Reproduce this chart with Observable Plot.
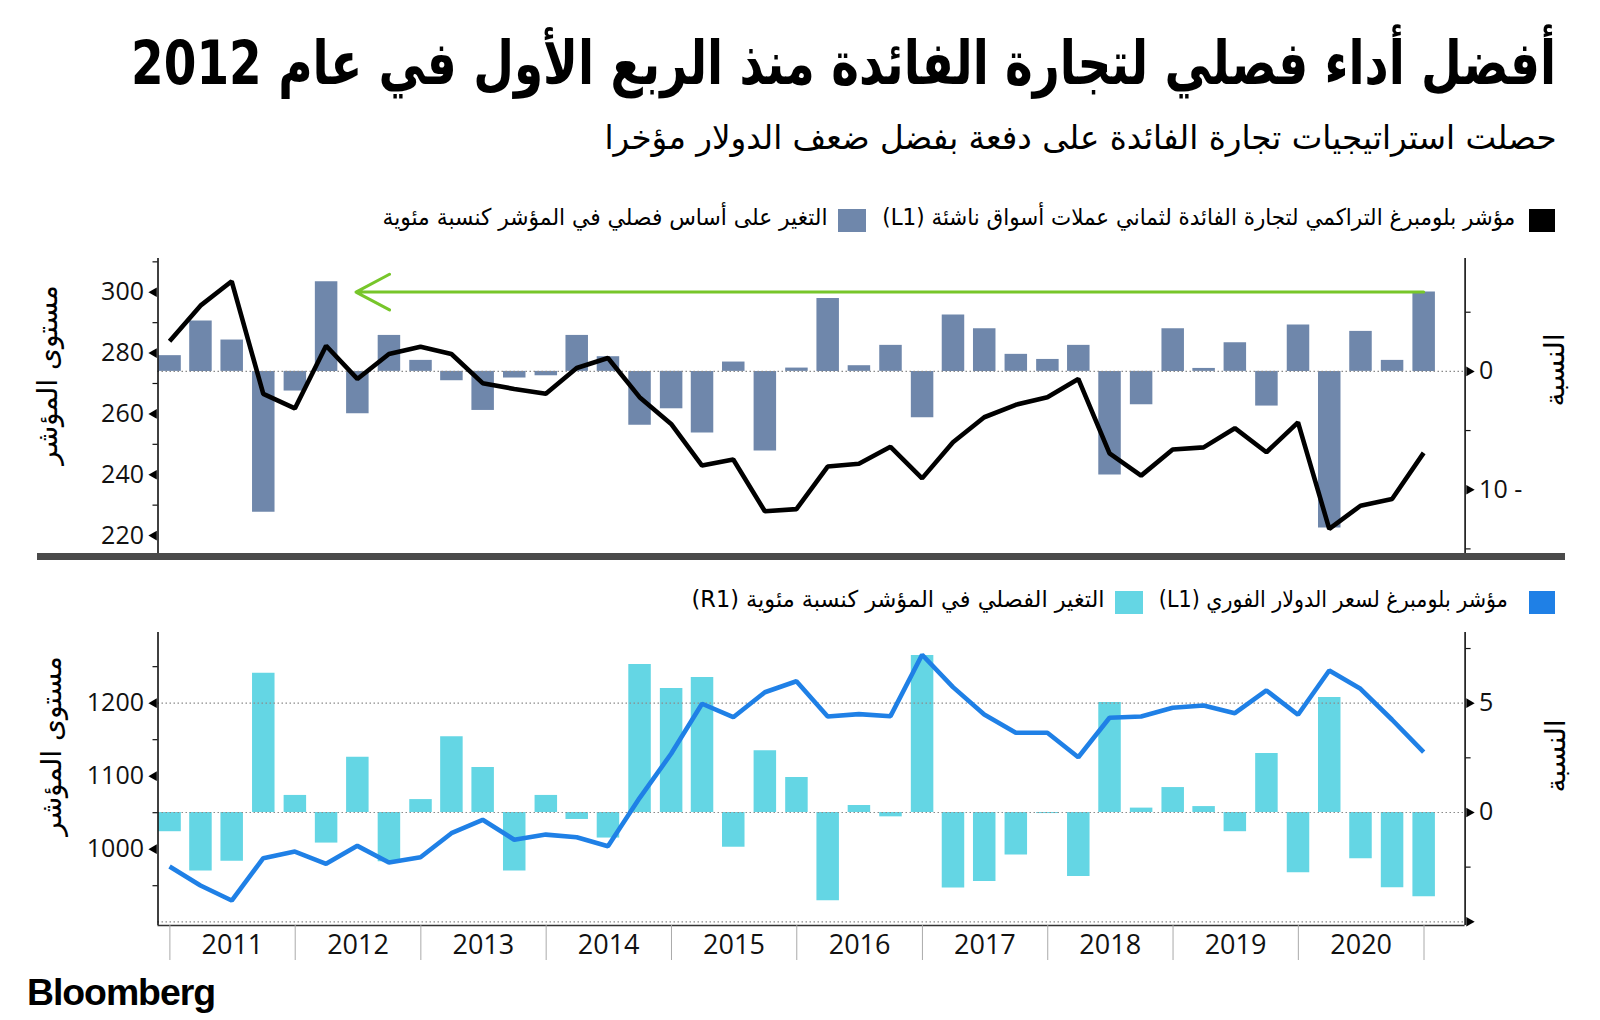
<!DOCTYPE html>
<html lang="ar">
<head>
<meta charset="utf-8">
<script src="https://cdn.jsdelivr.net/npm/d3@7"></script>
<script src="https://cdn.jsdelivr.net/npm/@observablehq/plot@0.6"></script>
<style>
  html, body { margin: 0; padding: 0; background: #fff; }
  body { width: 1600px; height: 1020px; position: relative; overflow: hidden; font-family: "DejaVu Sans", sans-serif; color: #000; }
  .abs { position: absolute; white-space: nowrap; line-height: 1; }
  .ar { direction: rtl; font-family: "DejaVu Sans", sans-serif; }
  .sq { position: absolute; }
  .vlab { position: absolute; white-space: nowrap; direction: rtl; font-family: "DejaVu Sans", sans-serif; font-size: 28px; line-height: 1; transform: translate(-50%, -50%) rotate(-90deg); }
</style>
</head>
<body>
<div id="title" class="abs ar" style="font-weight:bold;font-size:60px;">أفضل أداء فصلي لتجارة الفائدة منذ الربع الأول في عام 2012</div>
<div id="subtitle" class="abs ar" style="font-size:33px;">حصلت استراتيجيات تجارة الفائدة على دفعة بفضل ضعف الدولار مؤخرا</div>

<div class="sq" id="sqBlack"></div>
<div id="legT1" class="abs ar" style="font-size:23px;"></div>
<div class="sq" id="sqSlate"></div>
<div id="legT2" class="abs ar" style="font-size:23px;"></div>

<div id="topChart" style="position:absolute;left:0;top:235px;"></div>
<div id="sepBar" style="position:absolute;left:37px;top:553px;width:1528px;height:7px;background:#4a4a4a;"></div>

<div class="sq" id="sqBlue"></div>
<div id="legB1" class="abs ar" style="font-size:23px;"></div>
<div class="sq" id="sqCyan"></div>
<div id="legB2" class="abs ar" style="font-size:23px;"></div>

<div id="botChart" style="position:absolute;left:0;top:625px;"></div>

<div class="vlab" id="ylabTL" style="left:48px;top:375px;"></div>
<div class="vlab" id="ylabTR" style="left:1555px;top:370px;"></div>
<div class="vlab" id="ylabBL" style="left:52px;top:746px;"></div>
<div class="vlab" id="ylabBR" style="left:1556px;top:756px;"></div>

<div id="logo" class="abs" style="font-family:'Liberation Sans',Arial,sans-serif;font-weight:bold;font-size:36px;letter-spacing:-1px;">Bloomberg</div>

<script>
// ---------------- DATA ----------------
const quarters = [
  "2010-12-31",
  "2011-03-31","2011-06-30","2011-09-30","2011-12-31",
  "2012-03-31","2012-06-30","2012-09-30","2012-12-31",
  "2013-03-31","2013-06-30","2013-09-30","2013-12-31",
  "2014-03-31","2014-06-30","2014-09-30","2014-12-31",
  "2015-03-31","2015-06-30","2015-09-30","2015-12-31",
  "2016-03-31","2016-06-30","2016-09-30","2016-12-31",
  "2017-03-31","2017-06-30","2017-09-30","2017-12-31",
  "2018-03-31","2018-06-30","2018-09-30","2018-12-31",
  "2019-03-31","2019-06-30","2019-09-30","2019-12-31",
  "2020-03-31","2020-06-30","2020-09-30","2020-12-31"
];
// Bloomberg cumulative carry index, 8 EM currencies (L1)
const carryIndex = [
  283.9,
  295.6, 303.6, 266.6, 261.8,
  282.4, 271.5, 279.7, 282.1,
  279.7, 270.1, 268.2, 266.6,
  275.1, 278.4, 265.5, 256.7,
  243.0, 245.0, 228.0, 228.7,
  242.7, 243.6, 249.2, 238.8,
  250.7, 258.9, 263.0, 265.5,
  271.5, 247.0, 239.7, 248.3,
  249.0, 255.3, 247.4, 257.2,
  222.2, 229.8, 232.0, 247.2
];
// quarterly % change of the carry index (right axis)
const carryChange = [
  1.33,
  4.25, 2.65, -11.9, -1.66,
  7.58, -3.58, 3.04, 0.93,
  -0.79, -3.3, -0.56, -0.37,
  3.04, 1.24, -4.56, -3.16,
  -5.2, 0.79, -6.73, 0.28,
  6.17, 0.48, 2.2, -3.92,
  4.76, 3.6, 1.44, 1.01,
  2.2, -8.76, -2.82, 3.6,
  0.25, 2.42, -2.93, 3.92,
  -13.24, 3.38, 0.93, 6.7
];
// Bloomberg dollar spot index (L1)
const dollarIndex = [
  976.3,
  950.3, 929.7, 987.7, 996.8,
  980.0, 1004.6, 981.8, 989.0,
  1021.9, 1040.3, 1013.0, 1020.0,
  1016.4, 1004.0, 1070.0, 1130.7,
  1199.2, 1180.8, 1215.0, 1230.0,
  1181.8, 1185.0, 1182.2, 1266.3,
  1222.0, 1184.5, 1159.4, 1159.4,
  1126.0, 1180.0, 1181.8, 1193.7,
  1196.8, 1186.3, 1217.4, 1184.1,
  1244.8, 1219.7, 1177.3, 1132.9
];
// quarterly % change of the dollar index (R1)
const dollarChange = [
  -0.88,
  -2.68, -2.23, 6.37, 0.78,
  -1.4, 2.53, -2.25, 0.59,
  3.46, 2.06, -2.68, 0.78,
  -0.32, -1.17, 6.77, 5.67,
  6.17, -1.59, 2.82, 1.6,
  -4.04, 0.32, -0.2, 7.18,
  -3.46, -3.16, -1.94, -0.05,
  -2.93, 5.03, 0.2, 1.14,
  0.27, -0.88, 2.7, -2.76,
  5.26, -2.12, -3.44, -3.85
];
const yearLabels = ["2011","2012","2013","2014","2015","2016","2017","2018","2019","2020"];
const yearBounds = ["2011","2012","2013","2014","2015","2016","2017","2018","2019","2020","2021"];
const topLeftTicks = [220, 240, 260, 280, 300];
const topLeftMinor = [230, 250, 270, 290, 310];
const topRightTicks = [-10, 0];
const topRightMinor = [-15, -5, 5];
const botLeftTicks = [1000, 1100, 1200];
const botLeftMinor = [950, 1050, 1150, 1250];
const botRightTicks = [0, 5];
const botRightArrowTicks = [-5, 0, 5];
const botRightMinor = [-2.5, 2.5, 7.5];
const botGrid = [-5, 0, 5];
// arrow: from latest quarter back to Q1 2012 level
const arrowFrom = "2020-12-31";
const arrowTo = "2012-06-26";
const arrowLevel = 6.7;

const texts = {
  legT1: "مؤشر بلومبرغ  التراكمي لتجارة الفائدة لثماني عملات أسواق ناشئة (L1)",
  legT2: "التغير على أساس فصلي في المؤشر كنسبة مئوية",
  legB1: "مؤشر بلومبرغ لسعر الدولار الفوري (L1)",
  legB2: "التغير الفصلي في المؤشر كنسبة مئوية (R1)",
  yLeft: "مستوى المؤشر",
  yRight: "النسبة"
};

// ---------------- STYLE ----------------
const C = {
  slate: "#6f87ab",
  cyan: "#64d6e4",
  blue: "#1f80e6",
  green: "#77c62a",
  grid: "#8a8a8a"
};

// ---------------- HELPERS ----------------
const parse = d3.utcParse("%Y-%m-%d");
const dates = quarters.map(parse);
const rows = dates.map((d, i) => ({
  date: d,
  carry: carryIndex[i], carryChg: carryChange[i],
  usd: dollarIndex[i], usdChg: dollarChange[i]
}));

// shared time axis: 2011-01-01 at x=169.4, 2021-01-01 at x=1423.5, frame 157.5..1464.6
const t0 = Date.UTC(2011, 0, 1), t1 = Date.UTC(2021, 0, 1);
const msPerPx = (t1 - t0) / (1423.5 - 169.4);
const xDomain = [new Date(t0 - (169.4 - 157.5) * msPerPx), new Date(t1 + (1464.6 - 1423.5) * msPerPx)];
const W = 1600, ML = 157.5, MR = 1600 - 1464.6;

// dual-axis maps: percent -> left-axis units
const pctTop = d3.scaleLinear().domain([-10, 0]).range([235.07, 273.98]);
const pctBot = d3.scaleLinear().domain([0, 5]).range([1050.3, 1200]);
const fmtPct = v => { const r = Math.round(v * 10) / 10; return r < 0 ? `${-r} -` : `${r}`; };
const fmtNum = d => String(d);

const axisFont = "'Open Sans', 'Noto Sans', sans-serif";
const yearB = yearBounds.map(y => new Date(Date.UTC(+y, 0, 1)));
const yearMid = yearLabels.map(y => new Date(Date.UTC(+y, 6, 2)));
const LW = 4.6;

// ---------------- TOP CHART ----------------
const topPlot = Plot.plot({
  width: W, height: 330,
  marginLeft: ML, marginRight: MR, marginTop: 23, marginBottom: 12,
  style: { fontFamily: axisFont, fontSize: "25px", color: "#111", background: "transparent" },
  x: { type: "utc", domain: xDomain, axis: null },
  y: { domain: [214.1, 311.1], axis: null },
  marks: [
    Plot.ruleX(rows, { x: "date", y1: () => pctTop(0), y2: d => pctTop(d.carryChg), stroke: C.slate, strokeWidth: 22.5 }),
    Plot.ruleY([0], { y: d => pctTop(d), stroke: C.grid, strokeDasharray: "1.5,2.5", strokeWidth: 1.2 }),
    Plot.line(rows, { x: "date", y: "carry", stroke: "#000", strokeWidth: LW, strokeLinejoin: "miter", strokeLinecap: "butt" }),
    Plot.arrow([{ from: parse(arrowFrom), to: parse(arrowTo), v: arrowLevel }], {
      x1: "from", x2: "to", y1: d => pctTop(d.v), y2: d => pctTop(d.v),
      stroke: C.green, strokeWidth: 3, headLength: 19, headAngle: 56
    }),
    Plot.ruleX(xDomain, { stroke: "#000", strokeWidth: 1.5 }),
    // left axis
    Plot.axisY({ anchor: "left", ticks: topLeftTicks, tickFormat: fmtNum, tickSize: 0, tickPadding: 14, fontSize: 25, label: null }),
    Plot.axisY({ anchor: "left", ticks: topLeftMinor, tickSize: 5, tickFormat: () => "", label: null, strokeWidth: 1.2 }),
    Plot.dot(topLeftTicks, { y: d => d, frameAnchor: "left", symbol: "triangle", r: 3.6, rotate: -90, dx: -4, fill: "#000", stroke: null }),
    // right axis (percent)
    Plot.axisY({ anchor: "right", ticks: topRightTicks.map(v => pctTop(v)), tickFormat: d => fmtPct(pctTop.invert(d)), tickSize: 0, tickPadding: 14, fontSize: 25, label: null }),
    Plot.axisY({ anchor: "right", ticks: topRightMinor.map(v => pctTop(v)), tickSize: 5, tickFormat: () => "", label: null, strokeWidth: 1.2 }),
    Plot.dot(topRightTicks, { y: d => pctTop(d), frameAnchor: "right", symbol: "triangle", r: 3.6, rotate: 90, dx: 4, fill: "#000", stroke: null })
  ]
});
document.getElementById("topChart").appendChild(topPlot);

// ---------------- BOTTOM CHART ----------------
const botPlot = Plot.plot({
  width: W, height: 345,
  marginLeft: ML, marginRight: MR, marginTop: 7, marginBottom: 45,
  style: { fontFamily: axisFont, fontSize: "25px", color: "#111", background: "transparent" },
  x: { type: "utc", domain: xDomain },
  y: { domain: [895.5, 1296.8], axis: null },
  marks: [
    Plot.ruleX(rows, { x: "date", y1: () => pctBot(0), y2: d => pctBot(d.usdChg), stroke: C.cyan, strokeWidth: 22.5 }),
    Plot.ruleY(botGrid, { y: d => pctBot(d), stroke: C.grid, strokeDasharray: "1.5,2.5", strokeWidth: 1.2 }),
    Plot.line(rows, { x: "date", y: "usd", stroke: C.blue, strokeWidth: LW, strokeLinejoin: "miter", strokeLinecap: "butt" }),
    Plot.ruleX(xDomain, { stroke: "#000", strokeWidth: 1.5 }),
    Plot.ruleY([895.5], { stroke: "#333", strokeWidth: 1.5 }),
    // x axis: year separators and labels
    Plot.axisX({ ticks: yearB, tickSize: 35, tickFormat: () => "", stroke: "#aaa", label: null }),
    Plot.axisX({ ticks: yearMid, tickSize: 0, tickPadding: 9, tickFormat: "%Y", fontSize: 27, label: null }),
    // left axis
    Plot.axisY({ anchor: "left", ticks: botLeftTicks, tickFormat: fmtNum, tickSize: 0, tickPadding: 14, fontSize: 25, label: null }),
    Plot.axisY({ anchor: "left", ticks: botLeftMinor, tickSize: 5, tickFormat: () => "", label: null, strokeWidth: 1.2 }),
    Plot.dot(botLeftTicks, { y: d => d, frameAnchor: "left", symbol: "triangle", r: 3.6, rotate: -90, dx: -4, fill: "#000", stroke: null }),
    // right axis (percent)
    Plot.axisY({ anchor: "right", ticks: botRightTicks.map(v => pctBot(v)), tickFormat: d => fmtPct(pctBot.invert(d)), tickSize: 0, tickPadding: 14, fontSize: 25, label: null }),
    Plot.axisY({ anchor: "right", ticks: botRightMinor.map(v => pctBot(v)), tickSize: 5, tickFormat: () => "", label: null, strokeWidth: 1.2 }),
    Plot.dot(botRightArrowTicks, { y: d => pctBot(d), frameAnchor: "right", symbol: "triangle", r: 3.6, rotate: 90, dx: 4, fill: "#000", stroke: null })
  ]
});
document.getElementById("botChart").appendChild(botPlot);

// ---------------- TEXT & LEGENDS ----------------
document.getElementById("legT1").textContent = texts.legT1;
document.getElementById("legT2").textContent = texts.legT2;
document.getElementById("legB1").textContent = texts.legB1;
document.getElementById("legB2").textContent = texts.legB2;
document.getElementById("ylabTL").textContent = texts.yLeft;
document.getElementById("ylabBL").textContent = texts.yLeft;
document.getElementById("ylabTR").textContent = texts.yRight;
document.getElementById("ylabBR").textContent = texts.yRight;

function square(id, x0, x1, y0, y1, color) {
  const s = document.getElementById(id).style;
  s.left = x0 + "px"; s.width = (x1 - x0) + "px"; s.top = y0 + "px"; s.height = (y1 - y0) + "px"; s.background = color;
}
square("sqBlack", 1529, 1555, 209, 232, "#000");
square("sqSlate", 838, 866, 209, 232, C.slate);
square("sqBlue", 1529, 1555, 591, 614, C.blue);
square("sqCyan", 1115, 1143, 591, 614, C.cyan);

// fit a text block into a target box (right-anchored or left-anchored)
function fit(id, opts) {
  const el = document.getElementById(id);
  const w = el.getBoundingClientRect().width;
  const s = opts.width / w;
  el.style.transform = `scaleX(${s})`;
  if (opts.right != null) { el.style.transformOrigin = "right top"; el.style.right = (1600 - opts.right) + "px"; }
  else { el.style.transformOrigin = "left top"; el.style.left = opts.left + "px"; }
  el.style.top = opts.top + "px";
}
fit("title", { right: 1556, width: 1425, top: 33 });
fit("subtitle", { right: 1556, width: 952, top: 121 });
fit("legT1", { right: 1515, width: 633, top: 206 });
fit("legT2", { right: 827, width: 445, top: 206 });
fit("legB1", { right: 1508, width: 349, top: 588 });
fit("legB2", { right: 1105, width: 413, top: 588 });
fit("logo", { left: 27, width: 188, top: 975 });
</script>
</body>
</html>
